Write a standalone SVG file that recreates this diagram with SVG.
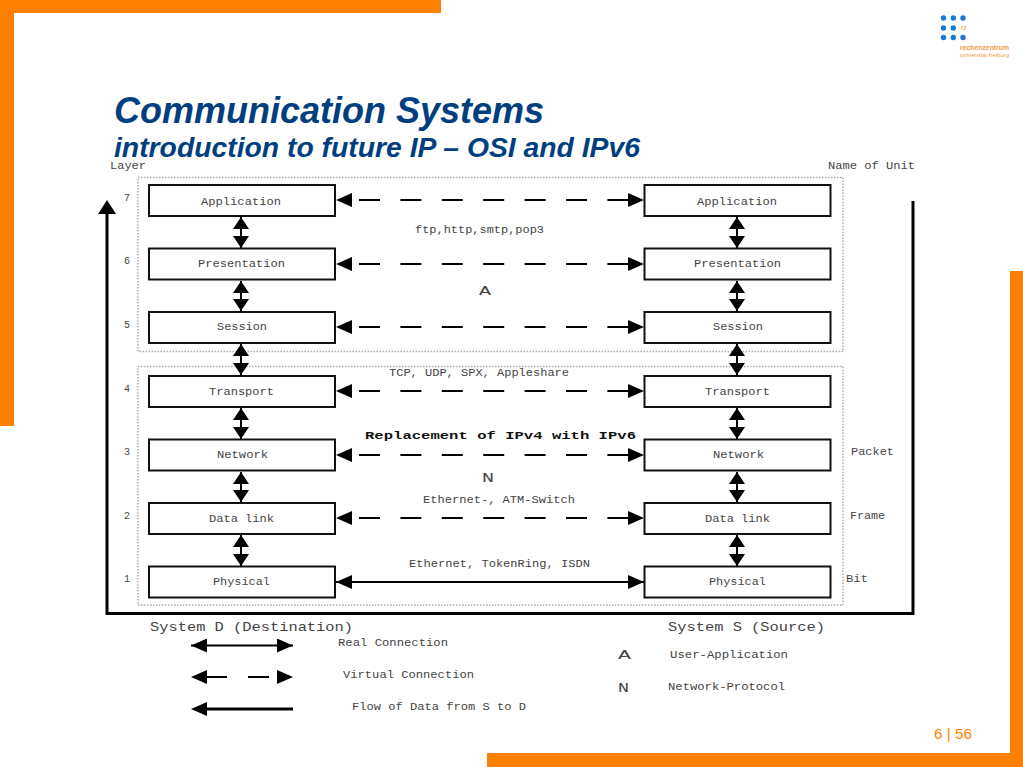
<svg xmlns="http://www.w3.org/2000/svg" width="1023" height="767" viewBox="0 0 1023 767">
<style>
.m{font-family:"Liberation Mono","DejaVu Sans Mono",monospace;font-size:10px;fill:#444}
.l{font-size:13.5px}
.box{fill:#fff;stroke:#111;stroke-width:2}
.dot{fill:none;stroke:#aaa;stroke-width:1.5;stroke-dasharray:1.5 1.5}
.real{stroke:#000;stroke-width:2;fill:none;marker-start:url(#h);marker-end:url(#h)}
.vert{stroke:#000;stroke-width:2;fill:none;marker-start:url(#v);marker-end:url(#v)}
.virt{stroke:#000;stroke-width:2;fill:none;stroke-dasharray:21 20.4}
.thick{stroke:#000;stroke-width:3;fill:none}
.tip{fill:#000}
.o{fill:#ff8000}
.b{fill:#1a78dc}
</style>
<defs>
<marker id="h" markerUnits="userSpaceOnUse" markerWidth="16" markerHeight="14" refX="16" refY="7" orient="auto-start-reverse"><path d="M0 0L16 7L0 14Z" fill="#000"/></marker>
<marker id="v" markerUnits="userSpaceOnUse" markerWidth="12" markerHeight="16" refX="12" refY="8" orient="auto-start-reverse"><path d="M0 0L12 8L0 16Z" fill="#000"/></marker>
</defs>
<g id="frame">
<rect class="o" x="0" y="0" width="441" height="13"/>
<rect class="o" x="0" y="0" width="14" height="426"/>
<rect class="o" x="1010" y="271" width="13" height="496"/>
<rect class="o" x="487" y="753" width="536" height="14"/>
</g>
<g id="logo">
<circle class="b" cx="943.500" cy="18" r="2.700"/><circle class="b" cx="953.300" cy="18" r="2.700"/><circle class="b" cx="963" cy="18" r="2.700"/>
<circle class="b" cx="943.500" cy="28" r="2.700"/><circle class="b" cx="953.300" cy="28" r="2.700"/>
<circle class="b" cx="943.500" cy="37.500" r="2.700"/><circle class="b" cx="953.300" cy="37.500" r="2.700"/><circle class="b" cx="963" cy="37.500" r="2.700"/>
<text x="961" y="30" font-family="Liberation Sans,sans-serif" font-size="7" fill="#f39a3c">rz</text>
<text x="960" y="50" font-family="Liberation Sans,sans-serif" font-size="7.500" font-weight="bold" fill="#f39a3c" textLength="49" lengthAdjust="spacingAndGlyphs">rechenzentrum</text>
<text x="960" y="56.500" font-family="Liberation Sans,sans-serif" font-size="6" fill="#f39a3c" textLength="49" lengthAdjust="spacingAndGlyphs">universität freiburg</text>
</g>
<g id="title" font-family="Liberation Sans,Arial,sans-serif" font-weight="bold" font-style="italic" fill="#003f7f">
<text x="114" y="123" font-size="36" textLength="430" lengthAdjust="spacingAndGlyphs">Communication Systems</text>
<text x="114" y="157" font-size="27" textLength="526" lengthAdjust="spacingAndGlyphs">introduction to future IP – OSI and IPv6</text>
</g>
<rect class="dot" x="138" y="177.500" width="705" height="174"/>
<rect class="dot" x="138" y="366.500" width="705" height="238.500"/>
<g id="connectors">
<path class="virt" d="M359 200H628M359 264H628M359 327H628M359 391H628M359 455H628M359 518H628"/>
<path class="tip" d="M336 200L352 193V207ZM644 200L628 193V207ZM336 264L352 257V271ZM644 264L628 257V271ZM336 327L352 320V334ZM644 327L628 320V334ZM336 391L352 384V398ZM644 391L628 384V398ZM336 455L352 448V462ZM644 455L628 448V462ZM336 518L352 511V525ZM644 518L628 511V525Z"/>
<path class="real" d="M336 582H644"/>
<path class="vert" d="M241 217V248"/><path class="vert" d="M241 281V311"/><path class="vert" d="M241 344V375"/><path class="vert" d="M241 408V439"/><path class="vert" d="M241 472V502"/><path class="vert" d="M241 535V566"/>
<path class="vert" d="M737 217V248"/><path class="vert" d="M737 281V311"/><path class="vert" d="M737 344V375"/><path class="vert" d="M737 408V439"/><path class="vert" d="M737 472V502"/><path class="vert" d="M737 535V566"/>
<path class="thick" d="M107 206V613.500H913V201"/>
<path class="tip" d="M107 200L116 214H98Z"/>
<path class="real" d="M191 645.500H293"/>
<path class="virt" d="M207 677H227"/>
<path class="virt" d="M248 677H269"/>
<path class="tip" d="M191 677L207 670V684ZM293 677L277 670V684Z"/>
<path class="thick" d="M205 709H293"/>
<path class="tip" d="M191 709L207 702V716Z"/>
</g>
<g id="left-stack">
<g id="d7"><rect class="box" x="149" y="185" width="186" height="31"/><text class="m" x="201" y="205" textLength="80" lengthAdjust="spacingAndGlyphs">Application</text></g>
<g id="d6"><rect class="box" x="149" y="248.500" width="186" height="31"/><text class="m" x="198" y="267" textLength="87" lengthAdjust="spacingAndGlyphs">Presentation</text></g>
<g id="d5"><rect class="box" x="149" y="312" width="186" height="31"/><text class="m" x="217" y="330" textLength="50" lengthAdjust="spacingAndGlyphs">Session</text></g>
<g id="d4"><rect class="box" x="149" y="376" width="186" height="31"/><text class="m" x="209" y="395" textLength="65" lengthAdjust="spacingAndGlyphs">Transport</text></g>
<g id="d3"><rect class="box" x="149" y="439.500" width="186" height="31"/><text class="m" x="217" y="458" textLength="51" lengthAdjust="spacingAndGlyphs">Network</text></g>
<g id="d2"><rect class="box" x="149" y="503" width="186" height="31"/><text class="m" x="209" y="522" textLength="65" lengthAdjust="spacingAndGlyphs">Data link</text></g>
<g id="d1"><rect class="box" x="149" y="566.500" width="186" height="31"/><text class="m" x="213" y="585" textLength="57" lengthAdjust="spacingAndGlyphs">Physical</text></g>
</g>
<g id="right-stack">
<g id="s7"><rect class="box" x="644.500" y="185" width="186" height="31"/><text class="m" x="697" y="205" textLength="80" lengthAdjust="spacingAndGlyphs">Application</text></g>
<g id="s6"><rect class="box" x="644.500" y="248.500" width="186" height="31"/><text class="m" x="694" y="267" textLength="87" lengthAdjust="spacingAndGlyphs">Presentation</text></g>
<g id="s5"><rect class="box" x="644.500" y="312" width="186" height="31"/><text class="m" x="713" y="330" textLength="50" lengthAdjust="spacingAndGlyphs">Session</text></g>
<g id="s4"><rect class="box" x="644.500" y="376" width="186" height="31"/><text class="m" x="705" y="395" textLength="65" lengthAdjust="spacingAndGlyphs">Transport</text></g>
<g id="s3"><rect class="box" x="644.500" y="439.500" width="186" height="31"/><text class="m" x="713" y="458" textLength="51" lengthAdjust="spacingAndGlyphs">Network</text></g>
<g id="s2"><rect class="box" x="644.500" y="503" width="186" height="31"/><text class="m" x="705" y="522" textLength="65" lengthAdjust="spacingAndGlyphs">Data link</text></g>
<g id="s1"><rect class="box" x="644.500" y="566.500" width="186" height="31"/><text class="m" x="709" y="585" textLength="57" lengthAdjust="spacingAndGlyphs">Physical</text></g>
</g>
<g id="labels">
<text class="m" x="110" y="169" textLength="36" lengthAdjust="spacingAndGlyphs">Layer</text>
<text class="m" x="828" y="169" textLength="87" lengthAdjust="spacingAndGlyphs">Name of Unit</text>
<text class="m" x="124" y="201">7</text><text class="m" x="124" y="264">6</text><text class="m" x="124" y="328">5</text><text class="m" x="124" y="392">4</text><text class="m" x="124" y="455">3</text><text class="m" x="124" y="519">2</text><text class="m" x="124" y="582">1</text>
<text class="m" x="415" y="233" textLength="129" lengthAdjust="spacingAndGlyphs">ftp,http,smtp,pop3</text>
<text class="m l" x="479" y="295" textLength="12" lengthAdjust="spacingAndGlyphs">A</text>
<text class="m" x="389" y="376" textLength="180" lengthAdjust="spacingAndGlyphs">TCP, UDP, SPX, Appleshare</text>
<text class="m" x="365" y="439" font-weight="bold" textLength="271" lengthAdjust="spacingAndGlyphs" style="font-size:11.500px;fill:#111">Replacement of IPv4 with IPv6</text>
<text class="m l" x="482" y="482" textLength="12" lengthAdjust="spacingAndGlyphs">N</text>
<text class="m" x="423" y="503" textLength="152" lengthAdjust="spacingAndGlyphs">Ethernet-, ATM-Switch</text>
<text class="m" x="409" y="567" textLength="181" lengthAdjust="spacingAndGlyphs">Ethernet, TokenRing, ISDN</text>
<text class="m" x="851" y="455" textLength="43" lengthAdjust="spacingAndGlyphs">Packet</text>
<text class="m" x="850" y="519" textLength="35" lengthAdjust="spacingAndGlyphs">Frame</text>
<text class="m" x="846" y="582" textLength="22" lengthAdjust="spacingAndGlyphs">Bit</text>
<text class="m l" x="150" y="631" textLength="203" lengthAdjust="spacingAndGlyphs">System D (Destination)</text>
<text class="m l" x="668" y="631" textLength="157" lengthAdjust="spacingAndGlyphs">System S (Source)</text>
<text class="m" x="338" y="646" textLength="110" lengthAdjust="spacingAndGlyphs">Real Connection</text>
<text class="m" x="343" y="678" textLength="131" lengthAdjust="spacingAndGlyphs">Virtual Connection</text>
<text class="m" x="352" y="710" textLength="174" lengthAdjust="spacingAndGlyphs">Flow of Data from S to D</text>
<text class="m l" x="618" y="659" textLength="13" lengthAdjust="spacingAndGlyphs">A</text>
<text class="m" x="670" y="658" textLength="118" lengthAdjust="spacingAndGlyphs">User-Application</text>
<text class="m l" x="618" y="692" textLength="11" lengthAdjust="spacingAndGlyphs">N</text>
<text class="m" x="668" y="690" textLength="117" lengthAdjust="spacingAndGlyphs">Network-Protocol</text>
</g>
<text x="934" y="739" font-family="Liberation Sans,Arial,sans-serif" font-size="14" fill="#ff8000" textLength="38" lengthAdjust="spacingAndGlyphs">6 | 56</text>
</svg>
